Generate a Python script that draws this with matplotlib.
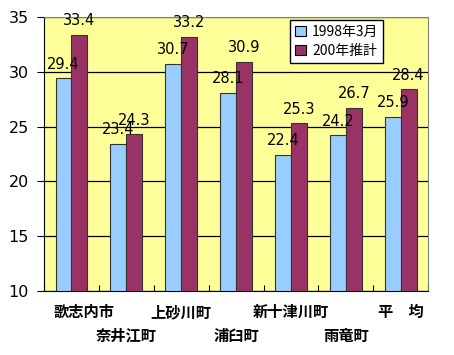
import matplotlib
matplotlib.use("Agg")
import matplotlib.pyplot as plt
import numpy as np

plt.rcParams['font.family'] = ['Noto Sans CJK JP', 'DejaVu Sans']

categories = ["歌志内市", "奈井江町", "上砂川町", "浦臼町", "新十津川町", "雨竜町", "平　均"]
series_names = ["1998年3月", "200年推計"]
values_1998 = [29.4, 23.4, 30.7, 28.1, 22.4, 24.2, 25.9]
values_est = [33.4, 24.3, 33.2, 30.9, 25.3, 26.7, 28.4]
yticks = [10, 15, 20, 25, 30, 35]

fig = plt.figure(figsize=(4.54, 3.55), dpi=100)
ax = fig.add_axes([0.097, 0.180, 0.846, 0.772])
ax.set_facecolor('#FFFF99')

x = np.arange(len(categories))
w = 0.29
b1 = ax.bar(x - w/2, np.array(values_1998) - 10, w, bottom=10, color='#99CCFF',
            edgecolor='#333333', linewidth=0.8, label=series_names[0], zorder=3)
b2 = ax.bar(x + w/2, np.array(values_est) - 10, w, bottom=10, color='#993366',
            edgecolor='#333333', linewidth=0.8, label=series_names[1], zorder=3)

for xs, vals in ((x - w/2, values_1998), (x + w/2, values_est)):
    for xi, v in zip(xs, vals):
        ax.annotate(f"{v:.1f}", (xi, v), xytext=(0, 7), textcoords='offset points',
                    ha='center', va='baseline', fontsize=10.5, color='black', zorder=5,
                    family=['DejaVu Sans'])

ax.set_xlim(-0.5, len(categories) - 0.5)
ax.set_ylim(10, 35)
ax.set_yticks(yticks)
ax.set_yticklabels([str(t) for t in yticks], fontsize=11.5, family=['DejaVu Sans'])
ax.yaxis.grid(True, color='black', linewidth=0.9, zorder=1)
ax.set_axisbelow(True)

ax.set_xticks(np.arange(len(categories) + 1) - 0.5, minor=False)
ax.set_xticklabels([])
ax.tick_params(axis='x', direction='in', length=4, color='black')
ax.tick_params(axis='y', direction='out', length=5, pad=6, color='black')

for i, name in enumerate(categories):
    yoff = -0.077 if i % 2 == 0 else -0.162
    xoff = 9 if i == 0 else 0
    ax.annotate(name, (i, yoff), xycoords=ax.get_xaxis_transform(),
                xytext=(xoff, 0), textcoords='offset points',
                ha='center', va='center', fontsize=11, fontweight='bold', color='black')

ax.spines['left'].set_color('black')
ax.spines['bottom'].set_color('black')
ax.spines['top'].set_color('#808080')
ax.spines['right'].set_color('#808080')

leg = ax.legend(loc='upper right', bbox_to_anchor=(0.883, 0.989), fontsize=10,
                frameon=True, fancybox=False, edgecolor='black', framealpha=1,
                handlelength=0.8, handleheight=0.8, handletextpad=0.4,
                borderpad=0.35, labelspacing=0.35, borderaxespad=0)
leg.get_frame().set_linewidth(1.0)
for h in leg.legend_handles:
    h.set_edgecolor('black')

fig.savefig('out.png', dpi=100, facecolor='white')
